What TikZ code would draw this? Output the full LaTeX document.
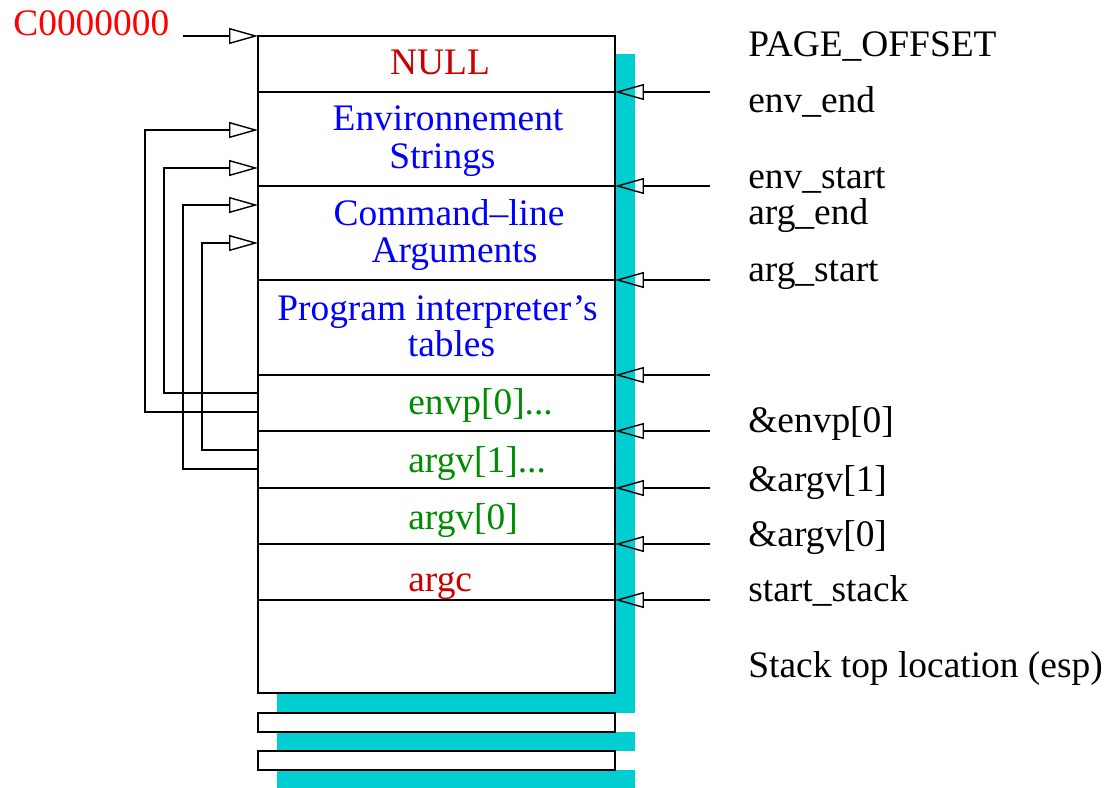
\documentclass[tikz,border=0pt]{standalone}
\usepackage{fontspec}
\setmainfont{Liberation Serif}
\usetikzlibrary{arrows.meta}
\definecolor{shadecyan}{RGB}{0,206,209}
\definecolor{addrred}{RGB}{255,0,0}
\definecolor{valred}{RGB}{204,0,0}
\definecolor{strblue}{RGB}{0,0,255}
\definecolor{ptrgreen}{RGB}{0,140,0}

\begin{document}
\begin{tikzpicture}[x=0.02cm,y=-0.02cm,
    txt/.style={font=\fontsize{21.3}{25}\selectfont, inner sep=0pt},
    wire/.style={line width=0.8pt},
    ptr/.style={wire, -{Triangle[open,length=0.58cm,width=0.32cm]}}]
    \useasboundingbox (0,0) rectangle (1110,788);
    % shadow of the stack
    \fill[shadecyan](615, 54)rectangle(635, 713);
    \fill[shadecyan](277, 693)rectangle(635, 713);
    \fill[shadecyan](277, 732)rectangle(635, 751);
    \fill[shadecyan](277, 770)rectangle(635, 788);
    % stack frame
    \draw[wire, fill=white](258, 36)rectangle(615, 693);
    \draw[wire, fill=white](258, 713)rectangle(615, 732);
    \draw[wire, fill=white](258, 751)rectangle(615, 770);
    \foreach \y in {92, 186, 280, 375, 431, 488, 544, 600}
        \draw[wire](258, \y)--(615, \y);
    % contents
    \node[txt, valred, anchor=base](null) at (440, 74){NULL};
    \node[txt, strblue, anchor=base](envA) at (448, 130){Environnement};
    \node[txt, strblue, anchor=base](envB) at (442.5, 168){Strings};
    \node[txt, strblue, anchor=base](argA) at (449, 225){Command–line};
    \node[txt, strblue, anchor=base](argB) at (454.5, 262){Arguments};
    \node[txt, strblue, anchor=base](interpA) at (437.5, 320){Program interpreter’s};
    \node[txt, strblue, anchor=base](interpB) at (451.5, 356){tables};
    \node[txt, ptrgreen, anchor=base west](envp) at (408, 414){envp[0]...};
    \node[txt, ptrgreen, anchor=base west](argvB) at (408, 472){argv[1]...};
    \node[txt, ptrgreen, anchor=base west](argvA) at (408, 529){argv[0]};
    \node[txt, valred, anchor=base west](argc) at (408, 591){argc};
    % top address
    \node[txt, addrred, anchor=base west](top) at (13, 35){C0000000};
    \coordinate(topsrc) at (183, 36);
    \coordinate(topdst) at (258, 36);
    \draw[ptr](topsrc)--(topdst);
    % pointers back into the strings
    \coordinate(penvA) at (258, 412);
    \coordinate(penvB) at (258, 393);
    \coordinate(pargA) at (258, 469);
    \coordinate(pargB) at (258, 450);
    \draw[ptr](penvA)-|(145, 130)--(258, 130);
    \draw[ptr](penvB)-|(164, 168)--(258, 168);
    \draw[ptr](pargA)-|(183, 205)--(258, 205);
    \draw[ptr](pargB)-|(202, 243)--(258, 243);
    % markers on the right
    \foreach \y [count=\i] in {92, 186, 280, 375, 431, 488, 544, 600}{
        \coordinate(src\i) at (710, \y);
        \coordinate(dst\i) at (615, \y);
        \draw[ptr](src\i)--(dst\i);
    }
    \node[txt, anchor=base west](pageoff) at (748, 56){PAGE\_OFFSET};
    \node[txt, anchor=base west](envend) at (748, 112){env\_end};
    \node[txt, anchor=base west](envstart) at (748, 188){env\_start};
    \node[txt, anchor=base west](argend) at (748, 224){arg\_end};
    \node[txt, anchor=base west](argstart) at (748, 281){arg\_start};
    \node[txt, anchor=base west](aenvp) at (748, 432){\&envp[0]};
    \node[txt, anchor=base west](aargvB) at (748, 491){\&argv[1]};
    \node[txt, anchor=base west](aargvA) at (748, 546){\&argv[0]};
    \node[txt, anchor=base west](sstack) at (748, 601){start\_stack};
    \node[txt, anchor=base west](esp) at (748, 677){Stack top location (esp)};
\end{tikzpicture}
\end{document}
